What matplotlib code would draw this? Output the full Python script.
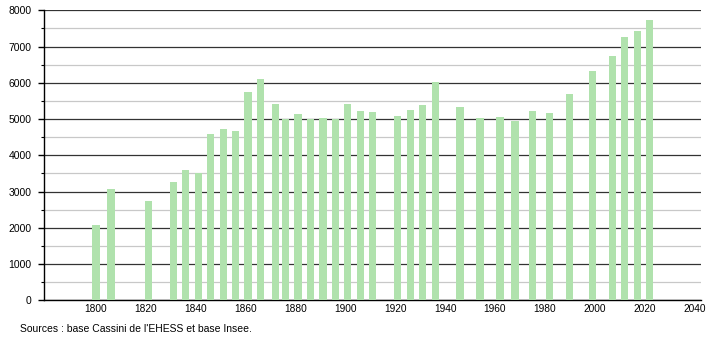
import matplotlib
matplotlib.use('Agg')
import matplotlib.pyplot as plt
from matplotlib.ticker import MultipleLocator

plt.rcParams['font.family'] = ['Liberation Sans', 'DejaVu Sans']

# census years and population
years = [1800, 1806, 1821, 1831, 1836, 1841, 1846, 1851, 1856, 1861,
         1866, 1872, 1876, 1881, 1886, 1891, 1896, 1901, 1906, 1911,
         1921, 1926, 1931, 1936, 1946, 1954, 1962, 1968, 1975, 1982,
         1990, 1999, 2007, 2012, 2017, 2022]
population = [2077, 3070, 2740, 3264, 3595, 3512, 4588, 4726, 4662, 5755,
              6097, 5408, 5002, 5131, 5002, 5038, 5002, 5408, 5231, 5195,
              5085, 5250, 5388, 6023, 5325, 5030, 5057, 4955, 5223, 5168,
              5692, 6326, 6749, 7265, 7430, 7734]
x_ticks = [1800, 1820, 1840, 1860, 1880, 1900, 1920, 1940, 1960, 1980,
           2000, 2020, 2040]
source = "Sources : base Cassini de l'EHESS et base Insee."

fig = plt.figure(figsize=(7.1, 3.4), dpi=100)
ax = fig.add_axes([0.0624, 0.1168, 0.9249, 0.8529])

ax.bar(years, population, width=2.9, color='#b0e2ad', zorder=3)

ax.set_xlim(1779.3, 2042.6)
ax.set_ylim(0, 8000)
ax.set_xticks(x_ticks)
ax.yaxis.set_major_locator(MultipleLocator(1000))
ax.yaxis.set_minor_locator(MultipleLocator(500))

ax.grid(axis='y', which='major', color='#333333', linewidth=0.9, zorder=0)
ax.grid(axis='y', which='minor', color='#c8c8c8', linewidth=0.9, zorder=0)

for s in ['top', 'right']:
    ax.spines[s].set_visible(False)
ax.spines['left'].set_linewidth(1.0)
ax.spines['bottom'].set_linewidth(1.0)

ax.tick_params(axis='y', which='major', length=4, width=1, labelsize=7.5, pad=5)
ax.tick_params(axis='y', which='minor', length=2, width=0.8)
ax.tick_params(axis='x', length=0, labelsize=7.3, pad=3)

fig.text(20.5 / 710, 1 - 329 / 340, source, fontsize=7.45, va='center', ha='left')

fig.savefig('out.png', dpi=100)
